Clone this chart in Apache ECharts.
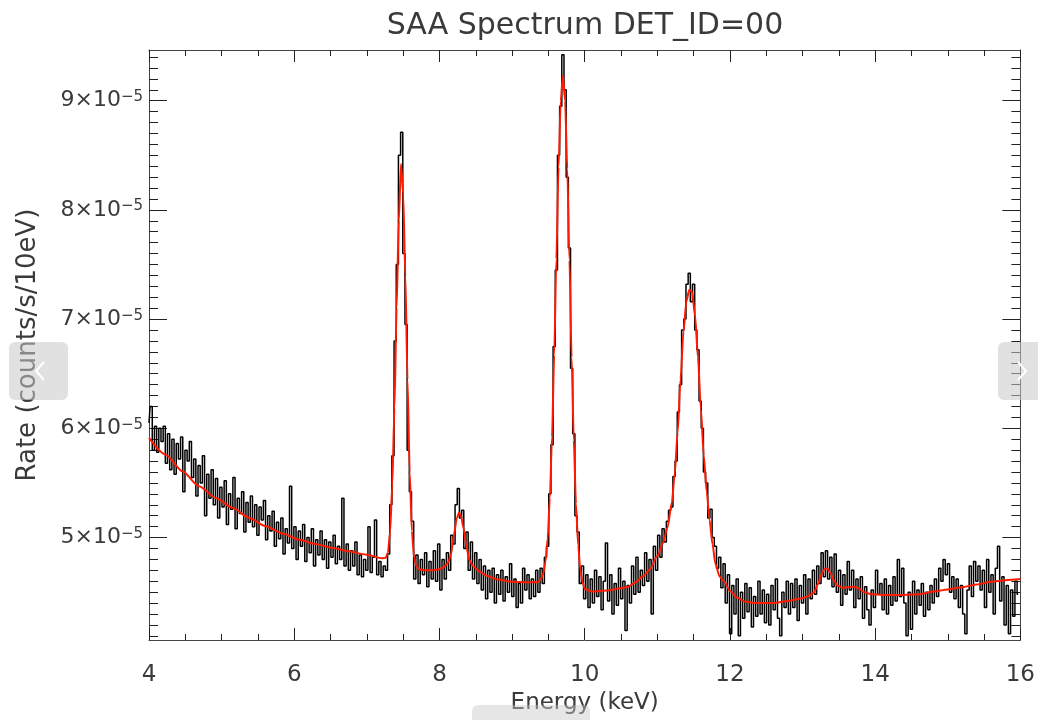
<!DOCTYPE html>
<html>
<head>
<meta charset="utf-8">
<script src="https://cdn.jsdelivr.net/npm/echarts@6.0.0/dist/echarts.min.js"></script>
<style>html,body{margin:0;padding:0;background:#fff}#chart{width:1038px;height:720px}</style>
</head>
<body>
<div id="chart"></div>
<script>
// Observed spectrum: 0.03 keV bins starting at 4.00 keV, rate in units of 1e-5 counts/s/10eV
const binStart = 4.0;
const binWidth = 0.03;
const rate = [
6.05,6.20,5.80,6.02,5.78,6.00,5.88,6.02,5.68,5.95,
5.62,5.90,5.58,5.86,5.72,5.92,5.42,5.80,5.70,5.88,
5.55,5.72,5.38,5.66,5.50,5.75,5.20,5.58,5.36,5.62,
5.30,5.54,5.18,5.46,5.28,5.52,5.12,5.40,5.26,5.55,
5.08,5.36,5.22,5.42,5.05,5.32,5.14,5.38,5.10,5.30,
5.02,5.28,5.16,5.34,4.98,5.20,5.06,5.24,4.92,5.14,
4.99,5.18,4.85,5.08,4.95,5.47,4.90,5.10,4.80,5.06,
4.92,5.12,4.78,5.00,4.86,5.08,4.74,4.98,4.84,5.06,
4.80,4.98,4.72,4.96,4.82,5.02,4.76,4.92,4.80,5.36,
4.74,4.94,4.70,4.88,4.74,4.96,4.66,4.84,4.64,4.80,
4.70,5.10,4.68,4.82,5.16,4.66,4.78,4.64,4.74,4.70,
4.85,5.30,5.75,6.80,7.50,8.50,8.71,7.60,6.95,5.80,
5.42,5.15,4.62,4.84,4.58,4.80,4.66,4.86,4.55,4.78,
4.62,4.88,4.60,4.94,4.52,4.80,4.62,4.86,4.70,5.02,
4.94,5.30,5.45,5.18,5.25,4.90,5.05,4.70,4.96,4.62,
4.86,4.58,4.80,4.52,4.74,4.44,4.70,4.50,4.72,4.40,
4.66,4.48,4.70,4.42,4.64,4.50,4.76,4.46,4.62,4.36,
4.58,4.40,4.72,4.52,4.66,4.44,4.62,4.46,4.70,4.50,
4.72,4.58,4.82,4.92,5.40,5.85,6.75,7.45,8.50,8.95,
9.42,9.10,8.30,7.65,6.55,5.95,5.20,5.05,4.58,4.74,
4.44,4.66,4.36,4.62,4.40,4.70,4.46,4.64,4.34,4.60,
4.95,4.42,4.66,4.30,4.58,4.38,4.72,4.44,4.60,4.15,
4.56,4.40,4.74,4.48,4.82,4.50,4.70,4.56,4.86,4.60,
4.80,4.30,4.92,4.70,5.02,4.82,5.08,4.96,5.15,5.25,
5.28,5.56,5.70,6.15,6.40,6.90,7.00,7.32,7.42,7.16,
7.32,6.90,6.72,6.25,6.00,5.60,5.50,5.18,5.26,5.00,
4.92,4.72,4.82,4.54,4.76,4.40,4.66,4.12,4.56,4.30,
4.62,4.10,4.50,4.26,4.58,4.32,4.54,4.18,4.46,4.28,
4.60,4.30,4.52,4.22,4.48,4.20,4.56,4.34,4.62,4.26,
4.10,4.50,4.36,4.60,4.30,4.58,4.36,4.62,4.24,4.56,
4.40,4.66,4.30,4.62,4.44,4.70,4.48,4.74,4.58,4.86,
4.64,4.88,4.62,4.82,4.55,4.85,4.50,4.70,4.38,4.66,
4.48,4.78,4.52,4.70,4.36,4.62,4.44,4.64,4.26,4.55,
4.34,4.20,4.52,4.36,4.70,4.48,4.58,4.34,4.62,4.30,
4.56,4.38,4.64,4.42,4.80,4.46,4.72,4.40,4.10,4.50,
4.16,4.60,4.30,4.52,4.38,4.58,4.28,4.50,4.34,4.56,
4.40,4.62,4.46,4.72,4.60,4.80,4.66,4.76,4.50,4.64,
4.44,4.62,4.36,4.56,4.30,4.12,4.52,4.74,4.46,4.78,
4.60,4.74,4.52,4.70,4.36,4.80,4.50,4.66,4.30,4.72,
4.92,4.42,4.64,4.20,4.56,4.12,4.52,4.28,4.60,4.48
];

// Model fit (red curve), rate in units of 1e-5
const fitEnergy = [
4.00,4.23,4.46,4.69,4.92,5.15,5.38,5.61,5.84,6.06,6.29,6.52,6.75,6.98,7.21,
7.26,7.29,7.32,7.35,7.38,7.41,7.44,7.47,7.50,7.53,7.56,7.59,7.62,7.65,7.68,7.72,
7.80,7.90,8.00,8.06,8.12,8.16,8.20,8.24,8.27,8.30,8.33,8.37,8.41,8.46,8.55,8.65,8.80,9.00,9.20,9.35,
9.40,9.43,9.46,9.49,9.52,9.55,9.58,9.61,9.64,9.67,9.70,9.73,9.76,9.79,9.82,9.85,9.88,9.91,9.94,9.97,10.00,
10.10,10.30,10.50,10.60,10.70,10.80,10.90,11.00,11.08,11.14,11.20,11.24,11.28,11.32,11.36,11.40,11.44,11.48,11.52,11.56,11.60,11.64,11.68,11.72,11.76,11.80,11.86,11.92,12.00,
12.10,12.20,12.35,12.60,12.80,13.00,13.10,13.16,13.21,13.26,13.30,13.34,13.38,13.43,13.48,13.55,13.62,13.70,13.76,13.85,13.95,14.10,14.40,14.60,14.80,15.00,15.20,15.40,15.60,15.80,16.00
];
const fitRate = [
5.912,5.759,5.607,5.469,5.363,5.272,5.180,5.104,5.037,4.982,4.942,4.906,4.875,4.845,4.810,
4.815,4.86,5.05,5.48,6.18,7.10,7.90,8.42,8.15,7.40,6.45,5.60,5.06,4.82,4.74,4.71,
4.70,4.70,4.71,4.73,4.77,4.85,5.03,5.18,5.23,5.19,5.09,4.92,4.80,4.74,4.69,4.65,4.615,4.595,4.59,4.59,
4.62,4.67,4.78,4.99,5.36,5.92,6.67,7.55,8.39,9.00,9.23,9.00,8.38,7.54,6.65,5.89,5.31,4.93,4.71,4.59,4.53,
4.505,4.515,4.535,4.55,4.59,4.645,4.71,4.83,4.95,5.09,5.32,5.58,5.96,6.45,6.88,7.16,7.27,7.25,7.03,6.65,6.18,5.75,5.42,5.16,4.94,4.76,4.64,4.60,4.51,
4.45,4.415,4.40,4.40,4.42,4.445,4.47,4.50,4.57,4.66,4.71,4.72,4.68,4.61,4.56,4.54,4.545,4.55,4.54,4.50,4.48,4.475,4.475,4.48,4.505,4.525,4.545,4.57,4.595,4.61,4.62
];

// Axes
const xMin = 4, xMax = 16, xStep = 2;
const yMin = 4.062, yMax = 9.464;
const yTickLabels = [5, 6, 7, 8, 9];
const yExponent = '\u22125';

const yMinorTicks = [];
for (let k = 41; k <= 94; k++) { if (k % 10 !== 0) yMinorTicks.push(k / 10); }

const observed = rate.map((v, i) => [+(binStart + i * binWidth).toFixed(3), v]);
const model = fitEnergy.map((e, i) => [e, fitRate[i]]);

const FONT = 'DejaVu Sans';
const TEXT = '#3a3a3a';
const axisColor = '#444';
const tickColor = '#222';

function xAxisDef(pos, showLabel) {
  return {
    type: 'value', position: pos, min: xMin, max: xMax, interval: xStep,
    axisLine: { show: true, onZero: false, lineStyle: { color: axisColor, width: 1 } },
    axisTick: { show: true, inside: true, length: 12, lineStyle: { color: tickColor, width: 1 } },
    minorTick: { show: true, splitNumber: 4, length: 6, lineStyle: { color: tickColor, width: 1 } },
    splitLine: { show: false }, minorSplitLine: { show: false },
    axisLabel: { show: showLabel, margin: 24, fontFamily: FONT, fontSize: 23, color: TEXT },
    name: showLabel ? 'Energy (keV)' : '', nameLocation: 'middle', nameGap: 52,
    nameTextStyle: { fontFamily: FONT, fontSize: 23, color: TEXT }
  };
}
function yAxisDef(pos, major, showLabel) {
  const ax = {
    type: 'value', position: pos, min: yMin, max: yMax,
    axisLine: { show: major, onZero: false, lineStyle: { color: axisColor, width: 1 } },
    axisTick: { show: true, inside: true, length: major ? 18 : 9,
      customValues: major ? yTickLabels : yMinorTicks, lineStyle: { color: tickColor, width: 1 } },
    splitLine: { show: false },
    axisLabel: { show: showLabel }
  };
  if (showLabel) {
    ax.axisLabel = {
      show: true, customValues: yTickLabels, margin: 6,
      formatter: v => '{a|' + v + '\u00d710}{b|' + yExponent + '}',
      rich: {
        a: { fontFamily: FONT, fontSize: 22, lineHeight: 22, color: TEXT, verticalAlign: 'bottom', padding: [4, 0, 0, 0] },
        b: { fontFamily: FONT, fontSize: 15, lineHeight: 15, color: TEXT, verticalAlign: 'top' }
      }
    };
    ax.name = 'Rate (counts/s/10eV)';
    ax.nameLocation = 'middle';
    ax.nameGap = 108;
    ax.nameTextStyle = { fontFamily: FONT, fontSize: 26, color: TEXT };
  }
  return ax;
}

const chart = echarts.init(document.getElementById('chart'), null, { renderer: 'canvas' });
chart.setOption({
  animation: false,
  backgroundColor: '#fff',
  grid: { left: 149, right: 17, top: 50, bottom: 80, containLabel: false },
  xAxis: [xAxisDef('bottom', true), xAxisDef('top', false)],
  yAxis: [yAxisDef('left', true, true), yAxisDef('left', false, false), yAxisDef('right', true, false), yAxisDef('right', false, false)],
  series: [
    { name: 'Observed', type: 'line', xAxisIndex: 0, yAxisIndex: 0, data: observed, step: 'middle',
      symbol: 'none', lineStyle: { color: '#000', width: 1.5 }, z: 2 },
    { name: 'Model', type: 'line', xAxisIndex: 0, yAxisIndex: 0, data: model, smooth: 0.25, smoothMonotone: 'x',
      symbol: 'none', lineStyle: { color: '#ff1a00', width: 2 }, z: 3 }
  ],
  graphic: [
    { type: 'text', x: 585, y: 26, z: 10, style: { text: 'SAA Spectrum DET_ID=00', font: '30px "DejaVu Sans"',
      fill: TEXT, textAlign: 'center', textVerticalAlign: 'middle' } },
    { type: 'rect', z: 20, shape: { x: 9, y: 342, width: 59, height: 58, r: 6 }, style: { fill: 'rgba(200,200,200,0.55)' } },
    { type: 'polyline', z: 21, shape: { points: [[44, 362], [36, 371], [44, 380]] }, style: { stroke: '#fff', lineWidth: 2, fill: null } },
    { type: 'rect', z: 20, shape: { x: 998, y: 342, width: 50, height: 58, r: 6 }, style: { fill: 'rgba(200,200,200,0.55)' } },
    { type: 'polyline', z: 21, shape: { points: [[1018, 362], [1026, 371], [1018, 380]] }, style: { stroke: '#fff', lineWidth: 2, fill: null } },
    { type: 'rect', z: 20, shape: { x: 472, y: 705, width: 118, height: 25, r: 6 }, style: { fill: 'rgba(200,200,200,0.45)' } }
  ]
});
</script>
</body>
</html>
